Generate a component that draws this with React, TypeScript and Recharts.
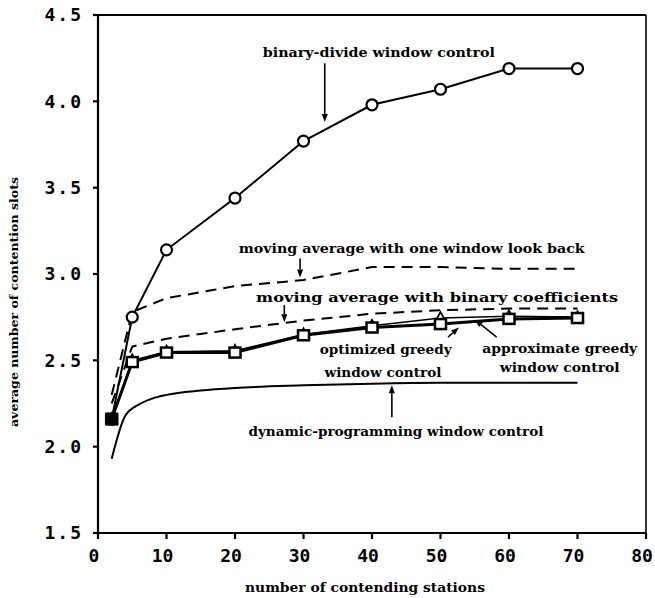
import React from 'react';
import { LineChart, Line, XAxis, YAxis, ReferenceLine, ReferenceDot, Label } from 'recharts';

type Pt = { x: number; y: number };

// series (x = contending stations, y = average contention slots)
const binaryDivide: Pt[] = [
  { x: 2, y: 2.16 }, { x: 5, y: 2.75 }, { x: 10, y: 3.14 }, { x: 20, y: 3.44 }, { x: 30, y: 3.77 },
  { x: 40, y: 3.98 }, { x: 50, y: 4.07 }, { x: 60, y: 4.19 }, { x: 70, y: 4.19 },
];
const lookBack: Pt[] = [
  { x: 2, y: 2.3 }, { x: 5, y: 2.78 }, { x: 10, y: 2.86 }, { x: 20, y: 2.93 }, { x: 30, y: 2.965 },
  { x: 40, y: 3.04 }, { x: 50, y: 3.04 }, { x: 60, y: 3.03 }, { x: 70, y: 3.03 },
];
const binaryCoef: Pt[] = [
  { x: 2, y: 2.25 }, { x: 5, y: 2.58 }, { x: 10, y: 2.625 }, { x: 20, y: 2.68 }, { x: 30, y: 2.73 },
  { x: 40, y: 2.77 }, { x: 50, y: 2.79 }, { x: 60, y: 2.8 }, { x: 70, y: 2.8 },
];
const approxGreedy: Pt[] = [
  { x: 2, y: 2.16 }, { x: 5, y: 2.5 }, { x: 10, y: 2.55 }, { x: 20, y: 2.555 }, { x: 30, y: 2.65 },
  { x: 40, y: 2.7 }, { x: 50, y: 2.745 }, { x: 60, y: 2.755 }, { x: 70, y: 2.75 },
];
const optGreedy: Pt[] = [
  { x: 2, y: 2.16 }, { x: 5, y: 2.49 }, { x: 10, y: 2.545 }, { x: 20, y: 2.545 }, { x: 30, y: 2.645 },
  { x: 40, y: 2.69 }, { x: 50, y: 2.71 }, { x: 60, y: 2.74 }, { x: 70, y: 2.745 },
];
const dynProg: Pt[] = [
  { x: 2, y: 1.93 }, { x: 4, y: 2.18 }, { x: 6, y: 2.245 }, { x: 8, y: 2.28 }, { x: 10, y: 2.3 },
  { x: 15, y: 2.325 }, { x: 20, y: 2.34 }, { x: 30, y: 2.355 }, { x: 40, y: 2.365 },
  { x: 50, y: 2.37 }, { x: 60, y: 2.37 }, { x: 70, y: 2.37 },
];
const startPoint: Pt = { x: 2, y: 2.16 };

const xTicks = [0, 10, 20, 30, 40, 50, 60, 70, 80];
const yTicks = [1.5, 2.0, 2.5, 3.0, 3.5, 4.0, 4.5];

// annotation texts, anchored in data coordinates
const notes = [
  { text: 'binary-divide window control', x: 41.0, y: 4.28, w: 232 },
  { text: 'moving average with one window look back', x: 45.8, y: 3.15, w: 346 },
  { text: 'moving average with binary coefficients', x: 49.5, y: 2.865, w: 362 },
  { text: 'optimized greedy', x: 42.0, y: 2.56, w: 132 },
  { text: 'window control', x: 41.6, y: 2.432, w: 117 },
  { text: 'approximate greedy', x: 67.4, y: 2.571, w: 155 },
  { text: 'window control', x: 67.4, y: 2.456, w: 120 },
  { text: 'dynamic-programming window control', x: 43.5, y: 2.085, w: 295 },
];
const arrows = [
  { from: { x: 33.1, y: 4.22 }, to: { x: 33.1, y: 3.88 } },
  { from: { x: 29.5, y: 3.09 }, to: { x: 29.5, y: 2.98 } },
  { from: { x: 27.2, y: 2.82 }, to: { x: 27.2, y: 2.72 } },
  { from: { x: 51.1, y: 2.635 }, to: { x: 52.7, y: 2.69 } },
  { from: { x: 58.2, y: 2.635 }, to: { x: 55.0, y: 2.735 } },
  { from: { x: 42.9, y: 2.17 }, to: { x: 42.9, y: 2.355 } },
];

const serif = 'DejaVu Serif';
const mono = 'DejaVu Sans Mono';

const Circle = (p: any) => (
  <circle key={p.index} cx={p.cx} cy={p.cy} r={5.5} fill="#fff" stroke="#000" strokeWidth={2.2} />
);
const Square = (p: any) => (
  <rect key={p.index} x={p.cx - 5.5} y={p.cy - 5} width={11} height={10} fill="#fff" stroke="#000" strokeWidth={2.5} />
);
const Triangle = (p: any) => (
  <polygon
    key={p.index}
    points={`${p.cx},${p.cy - 6} ${p.cx - 5.5},${p.cy + 4} ${p.cx + 5.5},${p.cy + 4}`}
    fill="#fff"
    stroke="#000"
    strokeWidth={1.8}
  />
);

const XTick = (p: any) => (
  <text
    x={p.x - 4}
    y={p.y}
    dy="0.71em"
    textAnchor="middle"
    fill="#000"
    fontFamily={mono}
    fontWeight="bold"
    fontSize={18}
  >
    {p.payload.value}
  </text>
);

const Arrow = (p: any) => {
  const { x1, y1, x2, y2 } = p;
  const a = Math.atan2(y2 - y1, x2 - x1);
  const L = 8;
  const W = 3;
  const bx = x2 - L * Math.cos(a);
  const by = y2 - L * Math.sin(a);
  const px = -Math.sin(a) * W;
  const py = Math.cos(a) * W;
  return (
    <g>
      <line x1={x1} y1={y1} x2={bx} y2={by} stroke="#000" strokeWidth={1.6} />
      <polygon points={`${x2},${y2} ${bx + px},${by + py} ${bx - px},${by - py}`} fill="#000" />
    </g>
  );
};

export default function App() {
  return (
    <div style={{ position: 'absolute', left: 0, top: 0, width: 655, height: 598, background: '#fff' }}>
      <LineChart width={655} height={598} margin={{ top: 15, right: 9, bottom: 0, left: 0 }}>
        <XAxis
          type="number"
          dataKey="x"
          domain={[0, 80]}
          ticks={xTicks}
          allowDataOverflow
          height={65}
          stroke="#000"
          strokeWidth={2.2}
          tickSize={6}
          tickMargin={10}
          tick={XTick}
        >
          <Label
            content={(props: any) => {
              const vb = props.viewBox;
              return (
                <text
                  x={vb.x + vb.width / 2 - 7}
                  y={vb.y + 54}
                  textAnchor="middle"
                  dominantBaseline="central"
                  fontFamily={serif}
                  fontWeight="bold"
                  fontSize={12.5}
                  textLength={240}
                  lengthAdjust="spacingAndGlyphs"
                >
                  number of contending stations
                </text>
              );
            }}
          />
        </XAxis>
        <YAxis
          type="number"
          domain={[1.5, 4.5]}
          ticks={yTicks}
          allowDataOverflow
          width={98}
          stroke="#000"
          strokeWidth={2.2}
          tickSize={5}
          tickMargin={10}
          tickFormatter={(v: number) => v.toFixed(1)}
          tick={{ fill: '#000', fontFamily: mono, fontWeight: 'bold', fontSize: 18, letterSpacing: 2 }}
        >
          <Label
            content={(props: any) => {
              const vb = props.viewBox;
              const cx = vb.x + 14;
              const cy = vb.y + vb.height / 2 + 28;
              return (
                <text
                  x={cx}
                  y={cy}
                  transform={`rotate(-90, ${cx}, ${cy})`}
                  textAnchor="middle"
                  dominantBaseline="central"
                  fontFamily={serif}
                  fontWeight="bold"
                  fontSize={11.5}
                  textLength={250}
                  lengthAdjust="spacingAndGlyphs"
                >
                  average number of contention slots
                </text>
              );
            }}
          />
        </YAxis>

        <ReferenceLine y={4.5} stroke="#000" strokeWidth={2.2} />
        <ReferenceLine x={80} stroke="#000" strokeWidth={1.6} />

        <Line data={dynProg} dataKey="y" type="monotone" stroke="#000" strokeWidth={2} dot={false} isAnimationActive={false} />
        <Line data={lookBack} dataKey="y" type="linear" stroke="#000" strokeWidth={2} strokeDasharray="11 7" dot={false} isAnimationActive={false} />
        <Line data={binaryCoef} dataKey="y" type="linear" stroke="#000" strokeWidth={2} strokeDasharray="11 7" dot={false} isAnimationActive={false} />
        <Line data={approxGreedy} dataKey="y" type="linear" stroke="#000" strokeWidth={1.6} dot={Triangle} isAnimationActive={false} />
        <Line data={optGreedy} dataKey="y" type="linear" stroke="#000" strokeWidth={3} dot={Square} isAnimationActive={false} />
        <Line data={binaryDivide} dataKey="y" type="linear" stroke="#000" strokeWidth={2} dot={Circle} isAnimationActive={false} />

        <ReferenceDot
          x={startPoint.x}
          y={startPoint.y}
          r={5}
          shape={(p: any) => <rect x={p.cx - 6} y={p.cy - 6.5} width={12} height={13} fill="#000" />}
        />

        {arrows.map((a, i) => (
          <ReferenceLine key={'a' + i} segment={[a.from, a.to]} shape={Arrow} />
        ))}
        {notes.map((n, i) => (
          <ReferenceDot
            key={'n' + i}
            x={n.x}
            y={n.y}
            r={1}
            shape={(p: any) => (
              <text
                x={p.cx}
                y={p.cy}
                textAnchor="middle"
                dominantBaseline="central"
                fontFamily={serif}
                fontWeight="bold"
                fontSize={12.5}
                textLength={n.w}
                lengthAdjust="spacingAndGlyphs"
              >
                {n.text}
              </text>
            )}
          />
        ))}
      </LineChart>
    </div>
  );
}
